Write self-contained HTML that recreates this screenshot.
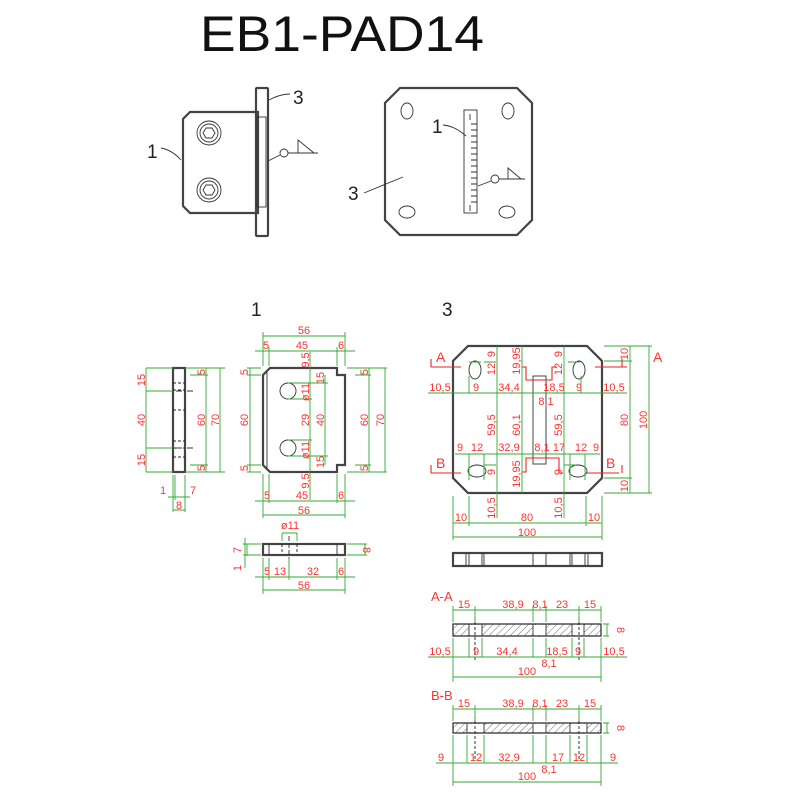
<!DOCTYPE html>
<html><head><meta charset="utf-8"><style>
html,body{margin:0;padding:0;background:#fff}
svg{display:block}
.o{fill:none;stroke:#444;stroke-width:2.2}
.t{fill:none;stroke:#333;stroke-width:0.9}
.g{fill:none;stroke:#3a3;stroke-width:0.9}
.r{fill:none;stroke:#e22;stroke-width:1.1}
.d{fill:none;stroke:#222;stroke-width:0.9;stroke-dasharray:3 2}
text{font-family:"Liberation Sans",sans-serif}
.n{fill:#f33;font-size:11px}
.l{fill:#222;font-size:19px}
</style></head><body>
<svg width="800" height="800" viewBox="0 0 800 800" xmlns="http://www.w3.org/2000/svg">
<defs>
<pattern id="h" width="5" height="5" patternUnits="userSpaceOnUse" patternTransform="rotate(45)"><line x1="0" y1="0" x2="0" y2="5" stroke="#444" stroke-width="0.8"/></pattern>
</defs>
<text x="200" y="51" font-family="DejaVu Sans,sans-serif" font-size="50" fill="#111" textLength="284" lengthAdjust="spacingAndGlyphs">EB1-PAD14</text>

<!-- top-left assembly -->
<path class="o" d="M190 112 H258 V213 H190 L183 206 V119 Z"/>
<rect class="o" x="256" y="88" width="12" height="148" rx="1"/>
<rect class="t" x="257" y="117" width="9" height="90"/>
<circle class="t" cx="209" cy="133" r="12"/><circle class="t" cx="209" cy="133" r="9"/>
<polygon class="t" points="203,133 206,128 212,128 215,133 212,138 206,138"/>
<circle class="t" cx="209" cy="190" r="12"/><circle class="t" cx="209" cy="190" r="9"/>
<polygon class="t" points="203,190 206,185 212,185 215,190 212,195 206,195"/>
<text class="l" x="293" y="104">3</text><path class="t" d="M269 100 Q280 94 290 94"/>
<text class="l" x="147" y="158">1</text><path class="t" d="M161 148 Q172 150 181 160"/>
<circle class="t" cx="284" cy="153" r="4"/><path class="t" d="M268 161 L280 155 M288 153 H318 M314 153 L298 140 V153"/>

<!-- top-right assembly -->
<path class="o" d="M400 88 H517 L532 103 V220 L517 235 H400 L385 220 V103 Z"/>
<ellipse class="t" cx="407" cy="111" rx="6" ry="8"/><ellipse class="t" cx="508" cy="111" rx="6" ry="8"/>
<ellipse class="t" cx="407" cy="212" rx="8" ry="6"/><ellipse class="t" cx="507" cy="212" rx="8" ry="6"/>
<rect class="t" x="464" y="110" width="13" height="103"/>
<g class="t"><path d="M470 114 V120 M470 205 V211"/>
<path d="M471 124h6M471 130h6M471 136h6M471 142h6M471 148h6M471 154h6M471 160h6M471 166h6M471 172h6M471 178h6M471 184h6M471 190h6M471 196h6M471 202h6"/></g>
<text class="l" x="432" y="133">1</text><path class="t" d="M443 125 Q455 126 466 136"/>
<text class="l" x="348" y="200">3</text><path class="t" d="M364 193 L403 177"/>
<circle class="t" cx="495" cy="179" r="4"/><path class="t" d="M478 186 L491 181 M499 179 H525 M521 179 L508 168 V179"/>

<text class="l" x="251" y="316">1</text>
<text class="l" x="442" y="316">3</text>

<!-- part1 side view -->
<rect class="o" x="173" y="368" width="12" height="104"/>
<path class="d" d="M173 383h12M173 390h12M173 410h12M173 441h12M173 448h12M173 457h12"/>
<path class="t" d="M165 391h28M165 448h28" stroke-dasharray="6 2 1 2"/>
<g class="g"><path d="M146 368h27M146 391h27M146 448h27M146 472h27M146 368V472M185 368h40M185 472h40M206 368V472M220 368V472M190 375h18M190 465h18"/>
<path d="M173 475V512M175 475V500M185 475V512M168 497h22M173 510h12"/></g>
<text class="n" transform="translate(145,380) rotate(-90)" text-anchor="middle">15</text>
<text class="n" transform="translate(145,420) rotate(-90)" text-anchor="middle">40</text>
<text class="n" transform="translate(145,460) rotate(-90)" text-anchor="middle">15</text>
<text class="n" transform="translate(205,372) rotate(-90)" text-anchor="middle">5</text>
<text class="n" transform="translate(205,420) rotate(-90)" text-anchor="middle">60</text>
<text class="n" transform="translate(205,468) rotate(-90)" text-anchor="middle">5</text>
<text class="n" transform="translate(219,420) rotate(-90)" text-anchor="middle">70</text>
<text class="n" x="160" y="494">1</text><text class="n" x="190" y="494">7</text><text class="n" x="176" y="509">8</text>

<!-- part1 front -->
<path class="o" d="M270 368 H337 V375 H345 V465 H337 V472 H270 L263 465 V375 Z"/>
<path class="t" d="M267 372 V468"/>
<circle class="t" cx="288" cy="391" r="8"/><circle class="t" cx="288" cy="448" r="8"/>
<g class="g"><path d="M263 332V366M345 332V366M269 347V366M337 347V366M263 336h82M255 351h100"/>
<path d="M263 474V518M345 474V518M269 474V503M337 474V503M255 501h100M263 515h82"/>
<path d="M247 368h14M247 375h14M247 465h14M247 472h14M250 368V472"/>
<path d="M347 368h40M347 472h40M355 375h16M355 465h16M369 368V472M385 368V472"/>
<path d="M310 352V500M325 375V465M288 383h40M288 399h24M288 440h24M288 456h40"/></g>
<g class="n" text-anchor="middle">
<text x="304" y="334">56</text><text x="266" y="349">5</text><text x="302" y="349">45</text><text x="341" y="349">6</text>
<text x="267" y="499">5</text><text x="302" y="499">45</text><text x="341" y="499">6</text><text x="304" y="514">56</text>
<text transform="translate(248,372) rotate(-90)">5</text><text transform="translate(248,420) rotate(-90)">60</text><text transform="translate(248,468) rotate(-90)">5</text>
<text transform="translate(368,372) rotate(-90)">5</text><text transform="translate(368,420) rotate(-90)">60</text><text transform="translate(368,468) rotate(-90)">5</text><text transform="translate(384,420) rotate(-90)">70</text>
<text transform="translate(309,360) rotate(-90)">9,5</text><text transform="translate(309,392) rotate(-90)">ø11</text><text transform="translate(309,420) rotate(-90)">29</text><text transform="translate(309,450) rotate(-90)">ø11</text><text transform="translate(309,481) rotate(-90)">9,5</text>
<text transform="translate(324,378) rotate(-90)">15</text><text transform="translate(324,420) rotate(-90)">40</text><text transform="translate(324,462) rotate(-90)">15</text>
</g>

<!-- part1 bottom view -->
<rect class="o" x="263" y="544" width="82" height="11"/>
<path class="t" d="M269 544v11M337 544v11"/>
<path class="d" d="M282 544v11M297 544v11"/>
<path class="t" d="M289 536v24" stroke-dasharray="5 2"/>
<g class="g"><path d="M282 533V541M297 533V541M282 533h15"/>
<path d="M243 544h18M243 555h18M245 538V568M247 544V556"/>
<path d="M347 544h20M347 555h20M365 544V555"/>
<path d="M263 558V594M345 558V594M269 558V580M289 558V580M337 558V580M255 577h100M263 590h82"/></g>
<g class="n" text-anchor="middle">
<text x="290" y="529">ø11</text>
<text transform="translate(241,550) rotate(-90)">7</text><text transform="translate(241,568) rotate(-90)">1</text>
<text transform="translate(363,550) rotate(90)">8</text>
<text x="267" y="575">5</text><text x="280" y="575">13</text><text x="313" y="575">32</text><text x="341" y="575">6</text>
<text x="304" y="589">56</text></g>

<!-- part3 plan -->
<path class="o" d="M468 346 H587 L602 361 V478 L587 493 H468 L453 478 V361 Z"/>
<ellipse class="t" cx="475" cy="370" rx="6" ry="9"/><ellipse class="t" cx="579" cy="370" rx="6" ry="9"/>
<ellipse class="t" cx="477" cy="471" rx="9" ry="6"/><ellipse class="t" cx="578" cy="471" rx="9" ry="6"/>
<rect class="t" x="533" y="376" width="13" height="88"/>
<g class="g">
<path d="M497 346V518M522 346V493M564 346V518"/>
<path d="M428 393H627M455 454H600"/>
<path d="M469 376V393M581 376V393M469 362h12M484 362h12M568 362h12M469 454V480M484 454V480M570 454V480M585 454V480M484 465h12M564 465h12"/>
<path d="M604 346H652M604 493H652M604 361h28M604 478h28M630 346V493M649 346V493"/>
<path d="M453 496V540M602 496V540M469 496V526M586 496V526M453 523h149M453 537h149"/></g>
<path class="r" d="M522 367H526V380H552V367H557"/>
<path class="r" d="M522 472H526V458H559V473H563"/>
<g class="n" text-anchor="middle">
<text transform="translate(495,354) rotate(-90)">9</text><text transform="translate(495,369) rotate(-90)">12</text>
<text transform="translate(520,361) rotate(-90)">19,95</text><text transform="translate(562,369) rotate(-90)">12</text><text transform="translate(562,354) rotate(-90)">9</text>
<text x="440" y="391">10,5</text><text x="476" y="391">9</text><text x="509" y="391">34,4</text><text x="554" y="391">18,5</text><text x="579" y="391">9</text><text x="614" y="391">10,5</text>
<text x="546" y="405">8,1</text>
<text transform="translate(495,425) rotate(-90)">59,5</text><text transform="translate(520,425) rotate(-90)">60,1</text><text transform="translate(562,425) rotate(-90)">59,5</text>
<text x="460" y="451">9</text><text x="477" y="451">12</text><text x="509" y="451">32,9</text><text x="542" y="451">8,1</text><text x="559" y="451">17</text><text x="581" y="451">12</text><text x="596" y="451">9</text>
<text transform="translate(495,472) rotate(-90)">9</text><text transform="translate(520,474) rotate(-90)">19,95</text><text transform="translate(562,472) rotate(-90)">9</text>
<text transform="translate(628,354) rotate(-90)">10</text><text transform="translate(628,420) rotate(-90)">80</text><text transform="translate(628,486) rotate(-90)">10</text><text transform="translate(647,420) rotate(-90)">100</text>
<text transform="translate(495,508) rotate(-90)">10,5</text><text transform="translate(562,508) rotate(-90)">10,5</text>
<text x="461" y="521">10</text><text x="527" y="521">80</text><text x="594" y="521">10</text><text x="527" y="536">100</text></g>
<g fill="#f33" font-size="14px"><text x="436" y="362">A</text><text x="653" y="362">A</text><text x="436" y="468">B</text><text x="606" y="468">B</text></g>
<path class="r" d="M431 367h30M431 359v8M595 367h32M622 359v8M431 473h30M431 465v8M587 473h32M622 465v8" stroke-width="0.9"/>

<!-- part3 side view -->
<rect class="o" x="453" y="553" width="149" height="13"/>
<path class="t" d="M466 553v13M469 553v13M482 553v13M484 553v13M533 553v13M546 553v13M570 553v13M572 553v13M585 553v13M588 553v13"/>

<!-- A-A -->
<text x="431" y="601" fill="#f33" font-size="13px">A-A</text>
<rect x="453" y="624" width="148" height="12" fill="url(#h)" stroke="#333" stroke-width="1.3"/>
<rect x="469" y="625" width="13" height="10" fill="#fff"/><rect x="533" y="625" width="13" height="10" fill="#fff"/><rect x="572" y="625" width="12" height="10" fill="#fff"/>
<path class="t" d="M469 624v12M482 624v12M533 624v12M546 624v12M572 624v12M584 624v12"/>
<path class="d" d="M475 617v44M579 617v44"/>
<g class="g"><path d="M453 606V622M475 606V622M533 606V622M546 606V622M579 606V622M601 606V622M453 610h148"/>
<path d="M603 624h6M603 636h6M607 624v12"/>
<path d="M428 657H627M453 638V682M469 638V657M482 638V657M533 638V657M546 638V657M572 638V657M584 638V657M601 638V682M453 677h148"/></g>
<g class="n" text-anchor="middle">
<text x="464" y="608">15</text><text x="513" y="608">38,9</text><text x="540" y="608">8,1</text><text x="562" y="608">23</text><text x="590" y="608">15</text>
<text transform="translate(617,630) rotate(90)">8</text>
<text x="440" y="655">10,5</text><text x="476" y="655">9</text><text x="507" y="655">34,4</text><text x="557" y="655">18,5</text><text x="578" y="655">9</text><text x="614" y="655">10,5</text>
<text x="549" y="667">8,1</text><text x="527" y="675">100</text></g>

<!-- B-B -->
<text x="431" y="700" fill="#f33" font-size="13px">B-B</text>
<rect x="453" y="723" width="148" height="10" fill="url(#h)" stroke="#333" stroke-width="1.3"/>
<rect x="467" y="724" width="17" height="8" fill="#fff"/><rect x="533" y="724" width="13" height="8" fill="#fff"/><rect x="570" y="724" width="17" height="8" fill="#fff"/>
<path class="t" d="M467 723v10M484 723v10M533 723v10M546 723v10M570 723v10M587 723v10"/>
<path class="d" d="M475 716v44M579 716v44"/>
<g class="g"><path d="M453 705V721M475 705V721M533 705V721M546 705V721M579 705V721M601 705V721M453 709h148"/>
<path d="M603 723h6M603 733h6M607 723v10"/>
<path d="M436 763H618M453 735V786M467 735V763M484 735V763M533 735V763M546 735V763M570 735V763M587 735V763M601 735V786M453 782h148"/></g>
<g class="n" text-anchor="middle">
<text x="464" y="707">15</text><text x="513" y="707">38,9</text><text x="540" y="707">8,1</text><text x="562" y="707">23</text><text x="590" y="707">15</text>
<text transform="translate(617,728) rotate(90)">8</text>
<text x="441" y="761">9</text><text x="476" y="761">12</text><text x="509" y="761">32,9</text><text x="558" y="761">17</text><text x="579" y="761">12</text><text x="613" y="761">9</text>
<text x="549" y="773">8,1</text><text x="527" y="780">100</text></g>
</svg>
</body></html>
